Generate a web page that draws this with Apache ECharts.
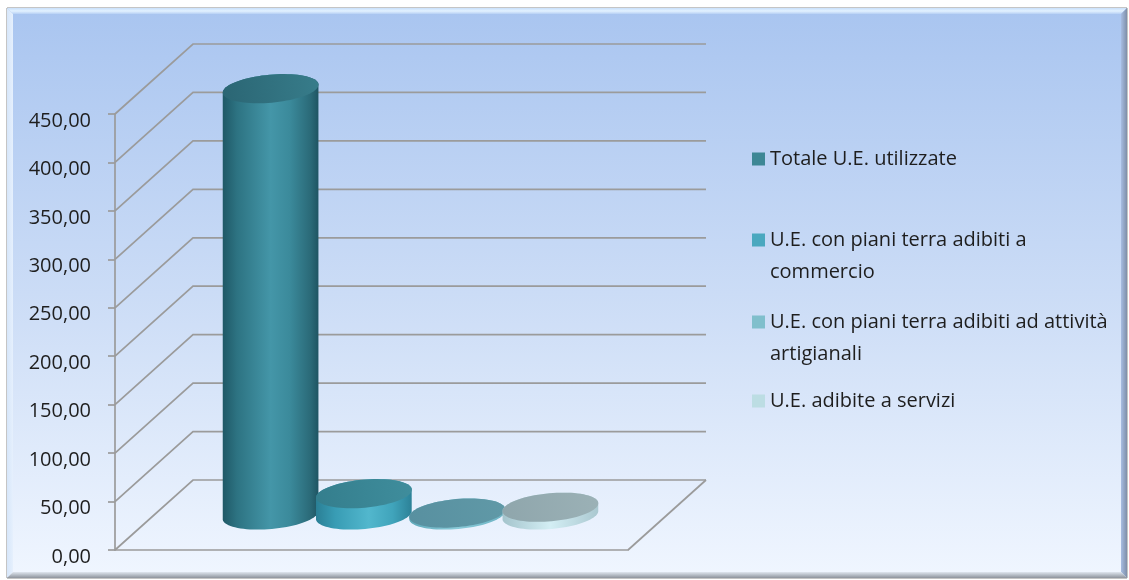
<!DOCTYPE html>
<html><head><meta charset="utf-8">
<script src="https://cdn.jsdelivr.net/npm/echarts@6/dist/echarts.min.js"></script>
<style>html,body{margin:0;padding:0;background:#fff}#c{width:1129px;height:580px}</style>
</head><body><div id="c"></div>
<script>
// ---- data ----
const seriesNames = [
  'Totale U.E. utilizzate',
  'U.E. con piani terra adibiti a commercio',
  'U.E. con piani terra adibiti ad attività artigianali',
  'U.E. adibite a servizi'
];
const legendLines = [
  ['Totale U.E. utilizzate'],
  ['U.E. con piani terra adibiti a', 'commercio'],
  ['U.E. con piani terra adibiti ad attività', 'artigianali'],
  ['U.E. adibite a servizi']
];
const seriesValues = [440, 22, 2, 8];
const yTicks = [0, 50, 100, 150, 200, 250, 300, 350, 400, 450];

// ---- style ----
const DX = 78, DY = -70;          // depth offset of the back wall (px)
const X_MIN = 0, X_MAX = 5.5;     // horizontal extent of floor (axis units)
const SLOT0 = 1.25, BAR_W = 1.03, RY = 14, TILT = -0.09;
const FONT = 'Open Sans';
const legendColors = ['#3d8795', '#4aa8bf', '#80bfcc', '#bcdde3'];
const bodyStops = [
  [[0,'#1f5866'],[0.15,'#2d7382'],[0.5,'#4496a8'],[0.7,'#3b8a9b'],[0.92,'#2a6977'],[1,'#1e5462']],
  [[0,'#2a7f95'],[0.2,'#389cb4'],[0.55,'#52b7cd'],[0.8,'#40a4bb'],[1,'#2c8197']],
  [[0,'#5fa9ba'],[0.5,'#8acbd9'],[1,'#6cb2c2']],
  [[0,'#a4c4cc'],[0.5,'#d3eef4'],[1,'#aac8d0']]
];
const topColors = [
  ['#2b6674','#377c8a'],
  ['#347e8d','#3f8d9c'],
  ['#5890a0','#6099a7'],
  ['#8fa6ac','#9bb1b6']
];

function ellPts(cx, cy, rx, ry, rot, a0, a1, n) {
  const pts = [];
  const c = Math.cos(rot), s = Math.sin(rot);
  for (let k = 0; k <= n; k++) {
    const t = a0 + (a1 - a0) * k / n;
    const lx = rx * Math.cos(t), ly = ry * Math.sin(t);
    pts.push([cx + lx * c - ly * s, cy + lx * s + ly * c]);
  }
  return pts;
}

const chart = echarts.init(document.getElementById('c'), null, {renderer: 'canvas'});

const wallSeries = {
  type: 'custom', name: '_walls', silent: true, z: 1,
  data: yTicks.map(v => [X_MIN, v]),
  renderItem: function (params, api) {
    const v = api.value(1);
    const p0 = api.coord([X_MIN, v]);
    const p2 = api.coord([X_MAX, v]);
    const st = {stroke: '#9b9b9b', lineWidth: 1.7, fill: null};
    const children = [{
      type: 'polyline',
      shape: {points: [p0, [p0[0] + DX, p0[1] + DY], [p2[0] + DX, p2[1] + DY]]},
      style: st
    }];
    if (v === 0) {
      children.push({type: 'line', shape: {x1: p2[0], y1: p2[1], x2: p2[0] + DX, y2: p2[1] + DY}, style: st});
    }
    return {type: 'group', children: children};
  }
};

const barSeries = seriesNames.map((name, i) => ({
  type: 'custom', name: name, z: 3 + i,
  itemStyle: {color: legendColors[i]},
  data: [[SLOT0 + i, seriesValues[i]]],
  renderItem: function (params, api) {
    const x = api.value(0), v = api.value(1);
    const b = api.coord([x, 0]), t = api.coord([x, v]);
    const rx = api.size([BAR_W, 0])[0] / 2;
    const cx = b[0] + DX / 2, by = b[1] + DY / 2, ty = t[1] + DY / 2;
    const bottomArc = ellPts(cx, by, rx, RY, TILT, 0, Math.PI, 40);
    const topArc = ellPts(cx, ty, rx, RY, TILT, Math.PI, 2 * Math.PI, 40);
    const topFull = ellPts(cx, ty, rx, RY, TILT, 0, 2 * Math.PI, 80);
    return {
      type: 'group',
      children: [
        {
          type: 'polygon', shape: {points: bottomArc.concat(topArc)},
          style: {fill: {type: 'linear', x: cx - rx, y: 0, x2: cx + rx, y2: 0, global: true,
            colorStops: bodyStops[i].map(s => ({offset: s[0], color: s[1]}))}}
        },
        {
          type: 'polygon', shape: {points: topFull},
          style: {fill: {type: 'linear', x: cx - rx, y: ty, x2: cx + rx, y2: ty - 10, global: true,
            colorStops: [{offset: 0, color: topColors[i][0]}, {offset: 1, color: topColors[i][1]}]}}
        }
      ]
    };
  }
}));

// legend positions (icon centre y)
const legendCenters = [159, 240, 322, 401];
const legends = seriesNames.map((name, i) => {
  const lines = legendLines[i];
  const txt = lines.length > 1 ? '\n' + lines.join('\n') : lines[0];
  const h = lines.length > 1 ? 96 : 32;
  return {
    left: 752, top: legendCenters[i] - h / 2, padding: 0,
    orient: 'vertical', icon: 'rect', itemWidth: 13, itemHeight: 13,
    data: [name],
    formatter: () => txt,
    textStyle: {fontFamily: FONT, fontSize: 20, color: '#1e1e1e', lineHeight: 32}
  };
});

const W = 1129, H = 580;
const L = 7, T = 8, R = 1127, B = 578, BV = 6;

chart.setOption({
  animation: false,
  backgroundColor: '#ffffff',
  graphic: [
    {type: 'rect', z: -10, silent: true, shape: {x: L, y: T, width: R - L, height: B - T},
      style: {fill: {type: 'linear', x: 0, y: 0, x2: 0, y2: 1,
        colorStops: [{offset: 0, color: '#a9c5f0'}, {offset: 0.5, color: '#cbdcf6'}, {offset: 1, color: '#f0f6ff'}]},
        stroke: '#8a8a8a', lineWidth: 1}},
    {type: 'polygon', z: -9, silent: true,
      shape: {points: [[L, T], [R, T], [R - BV, T + BV], [L + BV, T + BV]]},
      style: {fill: {type: 'linear', x: 0, y: 0, x2: 0, y2: 1,
        colorStops: [{offset: 0, color: '#c9e0fb'}, {offset: 0.5, color: '#e2f1ff'}, {offset: 1, color: '#b7d0f4'}]}}},
    {type: 'polygon', z: -9, silent: true,
      shape: {points: [[L, T], [L + BV, T + BV], [L + BV, B - BV], [L, B]]},
      style: {fill: {type: 'linear', x: 0, y: 0, x2: 1, y2: 0,
        colorStops: [{offset: 0, color: '#d6e6fa'}, {offset: 1, color: '#e6f0fd'}]}}},
    {type: 'polygon', z: -9, silent: true,
      shape: {points: [[R, T], [R, B], [R - BV, B - BV], [R - BV, T + BV]]},
      style: {fill: {type: 'linear', x: 0, y: 0, x2: 1, y2: 0,
        colorStops: [{offset: 0, color: '#a7bde2'}, {offset: 1, color: '#7e8ea8'}]}}},
    {type: 'polygon', z: -9, silent: true,
      shape: {points: [[L, B], [R, B], [R - BV, B - BV], [L + BV, B - BV]]},
      style: {fill: {type: 'linear', x: 0, y: 0, x2: 0, y2: 1,
        colorStops: [{offset: 0, color: '#dfe6ef'}, {offset: 1, color: '#8d939c'}]}}}
  ],
  legend: legends,
  grid: {left: 115, right: W - 628, top: 114, bottom: H - 550, containLabel: false},
  xAxis: {
    type: 'value', min: X_MIN, max: X_MAX,
    axisLine: {show: true, lineStyle: {color: '#9b9b9b', width: 1.7}},
    axisTick: {show: false}, axisLabel: {show: false}, splitLine: {show: false}
  },
  yAxis: {
    type: 'value', min: 0, max: 450, interval: 50,
    axisLine: {show: true, lineStyle: {color: '#9b9b9b', width: 1.7}},
    axisTick: {show: true, length: 7, lineStyle: {color: '#9b9b9b', width: 1.7}},
    splitLine: {show: false},
    axisLabel: {
      margin: 24, fontFamily: FONT, fontSize: 20, color: '#1e1e1e',
      formatter: v => v.toFixed(2).replace('.', ','),
      verticalAlign: 'top', lineHeight: 14
    }
  },
  series: [wallSeries].concat(barSeries)
});
</script>
</body></html>
